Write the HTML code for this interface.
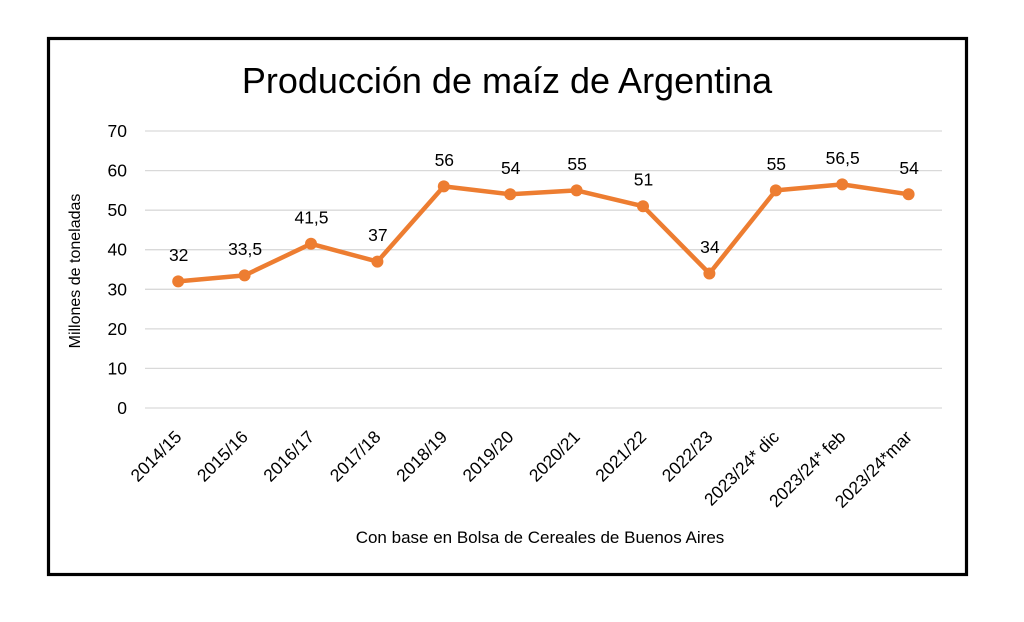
<!DOCTYPE html>
<html>
<head>
<meta charset="utf-8">
<style>
  html,body{margin:0;padding:0;background:#fff;}
  svg{display:block;}
  text{font-family:"Liberation Sans", Arial, sans-serif; fill:#000;}
</style>
</head>
<body>
<svg width="1024" height="622" viewBox="0 0 1024 622" xmlns="http://www.w3.org/2000/svg">
  <rect x="0" y="0" width="1024" height="622" fill="#fff"/>
  <rect x="48.5" y="38.5" width="918" height="536" fill="#fff" stroke="#000" stroke-width="3.2"/>

  <!-- Title -->
  <text x="507" y="93" font-size="36" text-anchor="middle">Producción de maíz de Argentina</text>

  <!-- Gridlines -->
  <g stroke="#d9d9d9" stroke-width="1.3">
    <line x1="145" y1="408" x2="942" y2="408"/>
    <line x1="145" y1="368.4" x2="942" y2="368.4"/>
    <line x1="145" y1="328.9" x2="942" y2="328.9"/>
    <line x1="145" y1="289.3" x2="942" y2="289.3"/>
    <line x1="145" y1="249.7" x2="942" y2="249.7"/>
    <line x1="145" y1="210.2" x2="942" y2="210.2"/>
    <line x1="145" y1="170.6" x2="942" y2="170.6"/>
    <line x1="145" y1="131" x2="942" y2="131"/>
  </g>

  <!-- Y tick labels -->
  <g font-size="17.5" text-anchor="end">
    <text x="127" y="414">0</text>
    <text x="127" y="374.4">10</text>
    <text x="127" y="334.9">20</text>
    <text x="127" y="295.3">30</text>
    <text x="127" y="255.7">40</text>
    <text x="127" y="216.2">50</text>
    <text x="127" y="176.6">60</text>
    <text x="127" y="137">70</text>
  </g>

  <!-- Y axis title -->
  <text transform="translate(80,271) rotate(-90)" font-size="16" text-anchor="middle">Millones de toneladas</text>

  <!-- Series line -->
  <polyline fill="none" stroke="#ED7D31" stroke-width="4.5" stroke-linejoin="round" stroke-linecap="round"
    points="178.2,281.4 244.6,275.4 311,243.8 377.4,261.6 443.8,186.4 510.2,194.3 576.6,190.4 643,206.2 709.4,273.5 775.8,190.4 842.2,184.4 908.6,194.3"/>
  <g fill="#ED7D31">
    <circle cx="178.2" cy="281.4" r="6"/>
    <circle cx="244.6" cy="275.4" r="6"/>
    <circle cx="311" cy="243.8" r="6"/>
    <circle cx="377.4" cy="261.6" r="6"/>
    <circle cx="443.8" cy="186.4" r="6"/>
    <circle cx="510.2" cy="194.3" r="6"/>
    <circle cx="576.6" cy="190.4" r="6"/>
    <circle cx="643" cy="206.2" r="6"/>
    <circle cx="709.4" cy="273.5" r="6"/>
    <circle cx="775.8" cy="190.4" r="6"/>
    <circle cx="842.2" cy="184.4" r="6"/>
    <circle cx="908.6" cy="194.3" r="6"/>
  </g>

  <!-- Data labels -->
  <g font-size="17.5" text-anchor="middle">
    <text x="178.7" y="260.9">32</text>
    <text x="245.1" y="254.9">33,5</text>
    <text x="311.5" y="223.3">41,5</text>
    <text x="377.9" y="241.1">37</text>
    <text x="444.3" y="165.9">56</text>
    <text x="510.7" y="173.8">54</text>
    <text x="577.1" y="169.9">55</text>
    <text x="643.5" y="185.7">51</text>
    <text x="709.9" y="253">34</text>
    <text x="776.3" y="169.9">55</text>
    <text x="842.7" y="163.9">56,5</text>
    <text x="909.1" y="173.8">54</text>
  </g>

  <!-- X labels -->
  <g font-size="17.5" text-anchor="end">
    <text transform="translate(182.6,438) rotate(-45)">2014/15</text>
    <text transform="translate(249,438) rotate(-45)">2015/16</text>
    <text transform="translate(315.4,438) rotate(-45)">2016/17</text>
    <text transform="translate(381.8,438) rotate(-45)">2017/18</text>
    <text transform="translate(448.2,438) rotate(-45)">2018/19</text>
    <text transform="translate(514.6,438) rotate(-45)">2019/20</text>
    <text transform="translate(581,438) rotate(-45)">2020/21</text>
    <text transform="translate(647.4,438) rotate(-45)">2021/22</text>
    <text transform="translate(713.8,438) rotate(-45)">2022/23</text>
    <text transform="translate(780.2,438) rotate(-45)">2023/24* dic</text>
    <text transform="translate(846.6,438) rotate(-45)">2023/24* feb</text>
    <text transform="translate(913,438) rotate(-45)">2023/24*mar</text>
  </g>

  <!-- Caption -->
  <text x="540" y="543" font-size="17" text-anchor="middle">Con base en Bolsa de Cereales de Buenos Aires</text>
</svg>
</body>
</html>
